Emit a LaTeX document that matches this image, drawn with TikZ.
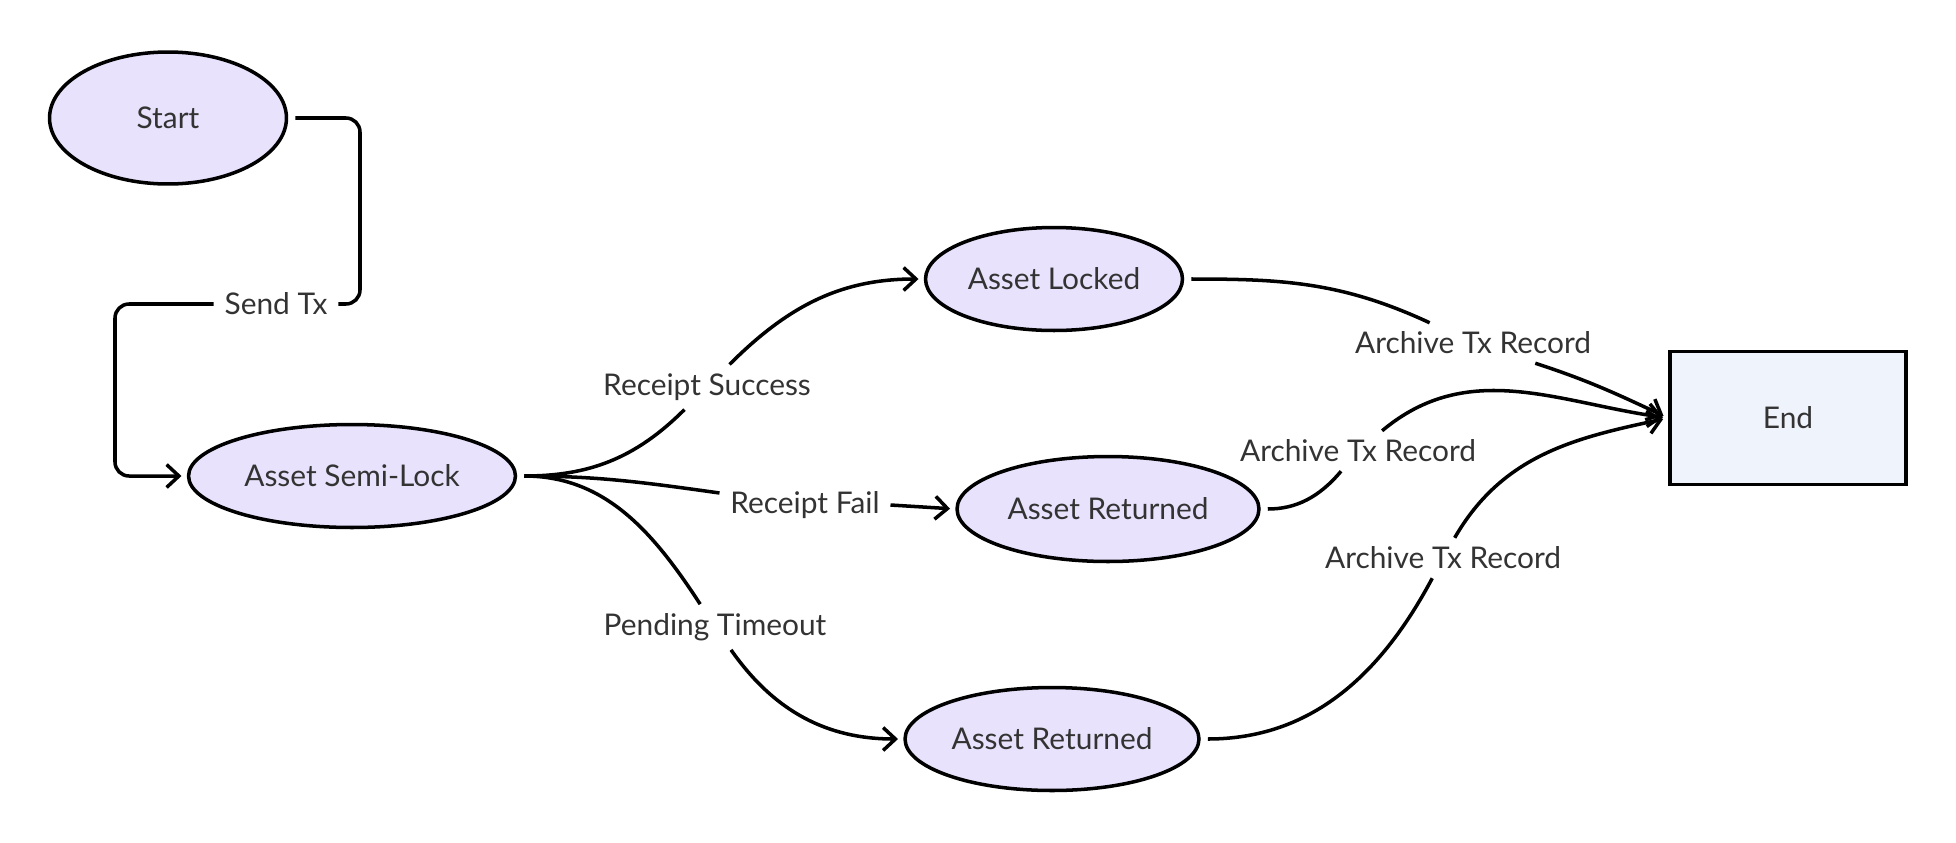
\documentclass[tikz,border=0pt]{standalone}
\usepackage{fontspec}
\setmainfont{Lato}
\usetikzlibrary{shapes.geometric,arrows.meta}
\definecolor{lavande}{HTML}{E8E2FC}
\definecolor{bleupale}{HTML}{EFF3FC}
\definecolor{texte}{HTML}{333333}
\tikzset{
	etat/.style={ellipse,draw=black,line width=2pt,fill=lavande,text=texte,inner sep=0pt},
	fin/.style={rectangle,draw=black,line width=2pt,fill=bleupale,text=texte,inner sep=0pt},
	lbl/.style={text=texte,inner xsep=6pt,inner ysep=5pt},
	lien/.style={draw=black,line width=2pt,shorten <=4pt},
	fleche/.style={lien,-{Straight Barb[length=7pt,width=13pt]},shorten >=3pt}
}
\begin{document}
\begin{tikzpicture}[x=0.02cm,y=0.02cm,font=\fontsize{17}{20}\selectfont]
	\useasboundingbox (0,0) rectangle (1956,-842);
% Etats
	\node[etat,minimum width=4.74cm,minimum height=2.64cm] (start) at (168,-118) {Start};
	\node[etat,minimum width=6.54cm,minimum height=2.06cm] (semi) at (352,-476) {Asset Semi-Lock};
	\node[etat,minimum width=5.14cm,minimum height=2.06cm] (locked) at (1054,-279) {Asset Locked};
	\node[etat,minimum width=6.04cm,minimum height=2.1cm] (retA) at (1108,-509) {Asset Returned};
	\node[etat,minimum width=5.88cm,minimum height=2.06cm] (retB) at (1052,-739) {Asset Returned};
	\node[fin,minimum width=4.72cm,minimum height=2.66cm] (end) at (1788,-418) {End};
% Etiquettes
	\node[lbl] (lsend) at (276,-304) {Send Tx};
	\node[lbl] (lsucc) at (707,-387) {Receipt Success};
	\node[lbl] (lfail) at (805,-505) {Receipt Fail};
	\node[lbl] (lpend) at (715,-627) {Pending Timeout};
	\node[lbl] (larchA) at (1473,-343) {Archive Tx Record};
	\node[lbl] (larchB) at (1358,-451) {Archive Tx Record};
	\node[lbl] (larchC) at (1443,-558) {Archive Tx Record};
% Start -> Semi-Lock
	\draw[lien,rounded corners=8pt] (start.east) -- (360,-118) -- (360,-304) -- (lsend.east);
	\draw[fleche,rounded corners=8pt,shorten <=0pt] (lsend.west) -- (115,-304) -- (115,-476) -- (semi.west);
% Branches
	\draw[lien] (semi.east) to[out=0,in=225] (lsucc);
	\draw[fleche,shorten <=0pt] (lsucc) to[out=45,in=180] (locked.west);
	\draw[lien] (semi.east) to[out=0,in=172] (lfail);
	\draw[fleche,shorten <=0pt] (lfail.east) -- (retA.west);
	\draw[lien] (semi.east) to[out=0,in=123] (lpend);
	\draw[fleche,shorten <=0pt] (lpend) to[out=-55,in=180] (retB.west);
% Archivage
	\draw[lien] (locked.east) to[out=0,in=155] (larchA);
	\draw[fleche,shorten <=0pt] (larchA) to[out=-18,in=155] (end.west);
	\draw[lien] (retA.east) to[out=0,in=230] (larchB);
	\draw[fleche,shorten <=0pt] (larchB) to[out=40,in=172] (end.west);
	\draw[lien] (retB.east) to[out=0,in=242] (larchC);
	\draw[fleche,shorten <=0pt] (larchC) to[out=60,in=192] (end.west);
\end{tikzpicture}
\end{document}
